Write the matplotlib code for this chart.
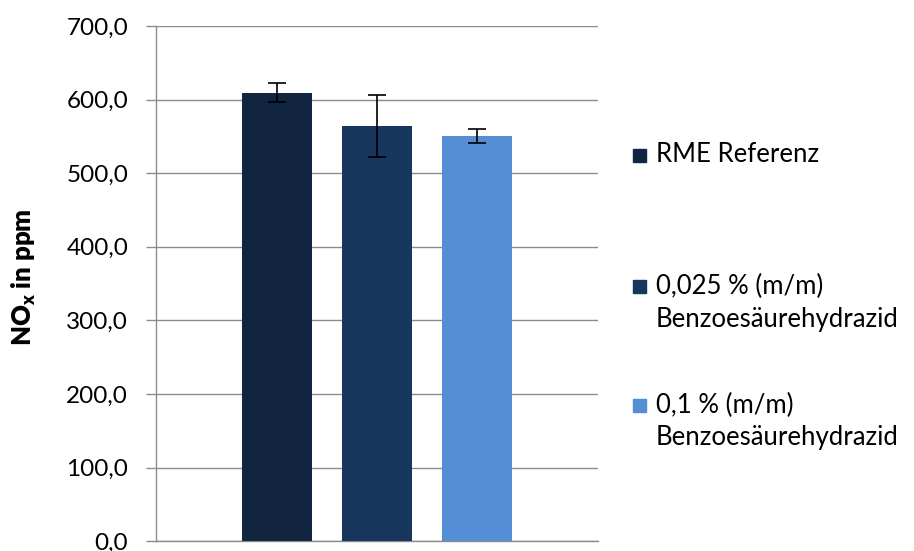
import matplotlib
matplotlib.use("Agg")
import matplotlib.pyplot as plt
from matplotlib.patches import Rectangle
from matplotlib.ticker import FuncFormatter

plt.rcParams['font.family'] = ['Lato', 'DejaVu Sans']
plt.rcParams['mathtext.fontset'] = 'custom'
plt.rcParams['mathtext.rm'] = 'Lato'
plt.rcParams['mathtext.bf'] = 'Lato:bold'

series = ["RME Referenz",
          "0,025 % (m/m)\nBenzoesäurehydrazid",
          "0,1 % (m/m)\nBenzoesäurehydrazid"]
values = [609.5, 564.3, 550.5]
errors = [13.3, 42.0, 9.5]
colors = ["#112440", "#17375E", "#558ED5"]
yticks = [0, 100, 200, 300, 400, 500, 600, 700]

fig = plt.figure(figsize=(9.14, 5.51), dpi=100)
ax = fig.add_axes([156/914, 1-541.3/551, (598-156)/914, (541.3-26)/551])

x = list(range(len(values)))
ax.bar(x, values, width=0.70, color=colors, zorder=3)
ax.errorbar(x, values, yerr=errors, fmt='none', ecolor='black',
            elinewidth=1.2, capsize=6.5, capthick=1.2, zorder=4)

ax.set_xlim(1-2.21, 1+2.21)
ax.set_ylim(0, 700)
ax.set_yticks(yticks)
ax.yaxis.set_major_formatter(FuncFormatter(lambda v, p: f"{v:.1f}".replace('.', ',')))
ax.set_xticks([])
ax.grid(axis='y', color='#8C8C8C', linewidth=1.0, zorder=0)
for s in ['top', 'right']:
    ax.spines[s].set_visible(False)
for s in ['left', 'bottom']:
    ax.spines[s].set_color('#8C8C8C')
    ax.spines[s].set_linewidth(1.0)
ax.tick_params(axis='y', length=7, width=1.0, color='#8C8C8C', labelsize=17.5,
               pad=13, labelcolor='black')

fig.text(24/914, 1-277/551, r'NO$_\mathregular{x}$ in ppm', rotation=90,
         fontsize=18.5, fontweight='heavy', ha='center', va='center')

# legend (manual, Excel style: marker aligned with first line)
leg_y = [155, 286, 405]
for lab, col, yy in zip(series, colors, leg_y):
    fig.patches.append(Rectangle((633/914, 1-(yy+6.5)/551), 13/914, 13/551,
                                 transform=fig.transFigure, color=col))
    lines = lab.split("\n")
    for i, ln in enumerate(lines):
        fig.text(656/914, 1-(yy+i*33)/551, ln, fontsize=18.5,
                 ha='left', va='center')

fig.savefig("out.png", dpi=100)
